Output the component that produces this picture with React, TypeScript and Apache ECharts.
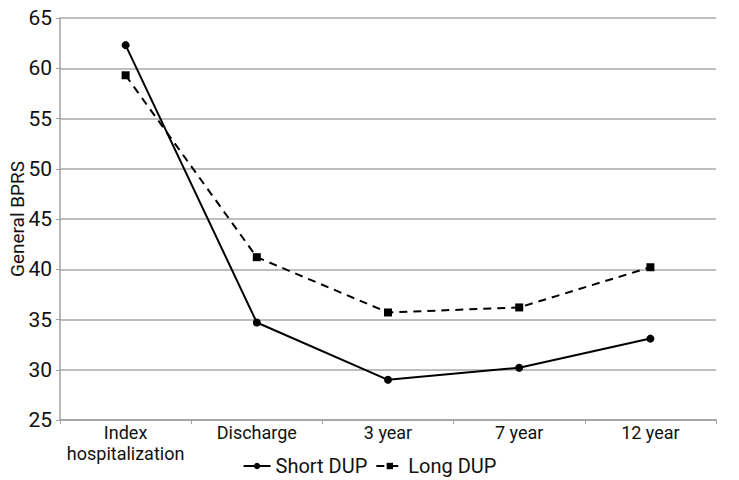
import React, { useEffect, useRef } from "react";
import * as echarts from "echarts";

const categories = ["Index\nhospitalization", "Discharge", "3 year", "7 year", "12 year"];
const shortDUP = [62.3, 34.7, 29.0, 30.2, 33.1];
const longDUP = [59.3, 41.2, 35.7, 36.2, 40.2];
const yTicks = { min: 25, max: 65, interval: 5 };

const FONT = "Roboto, 'Noto Sans', sans-serif";

export default function App() {
  const ref = useRef<HTMLDivElement>(null);
  useEffect(() => {
    if (!ref.current) return;
    const chart = echarts.init(ref.current, null, { renderer: "svg" });
    chart.setOption({
      animation: false,
      backgroundColor: "#ffffff",
      textStyle: { fontFamily: FONT },
      grid: { left: 60, right: 23, top: 18, bottom: 60, containLabel: false, outerBoundsMode: "none" },
      legend: {
        left: "center",
        top: 451,
        itemWidth: 27,
        itemHeight: 8,
        itemGap: 8,
        textStyle: { fontFamily: FONT, fontSize: 20, color: "#111" },
        data: ["Short DUP", "Long DUP"],
      },
      xAxis: {
        type: "category",
        data: categories,
        boundaryGap: true,
        axisLine: { lineStyle: { color: "#a0a0a0", width: 1.5 } },
        axisTick: { show: true, alignWithLabel: false, length: 4, lineStyle: { color: "#a0a0a0" } },
        axisLabel: {
          fontFamily: FONT,
          fontSize: 18,
          color: "#111",
          lineHeight: 21,
          margin: 2,
          interval: 0,
        },
      },
      yAxis: {
        type: "value",
        min: yTicks.min,
        max: yTicks.max,
        interval: yTicks.interval,
        name: "General BPRS",
        nameLocation: "middle",
        nameGap: 33,
        nameRotate: 90,
        nameMoveOverlap: false,
        nameTextStyle: { fontFamily: FONT, fontSize: 19, color: "#111" },
        axisLine: { show: true, lineStyle: { color: "#a0a0a0", width: 1.5 } },
        axisTick: { show: true, length: 4, lineStyle: { color: "#a0a0a0" } },
        axisLabel: { fontFamily: FONT, fontSize: 21, color: "#111", margin: 8 },
        splitLine: { show: true, lineStyle: { color: "#a8a8a8", width: 1.5 } },
      },
      series: [
        {
          name: "Short DUP",
          type: "line",
          data: shortDUP,
          symbol: "circle",
          symbolSize: 8,
          color: "#000",
          lineStyle: { color: "#000", width: 2 },
          itemStyle: { color: "#000" },
        },
        {
          name: "Long DUP",
          type: "line",
          data: longDUP,
          symbol: "rect",
          symbolSize: 8,
          color: "#000",
          lineStyle: { color: "#000", width: 2, type: [8, 6] },
          itemStyle: { color: "#000" },
        },
      ],
    });
    return () => chart.dispose();
  }, []);
  return <div ref={ref} style={{ width: 739, height: 480, position: "absolute", left: 0, top: 0 }} />;
}
